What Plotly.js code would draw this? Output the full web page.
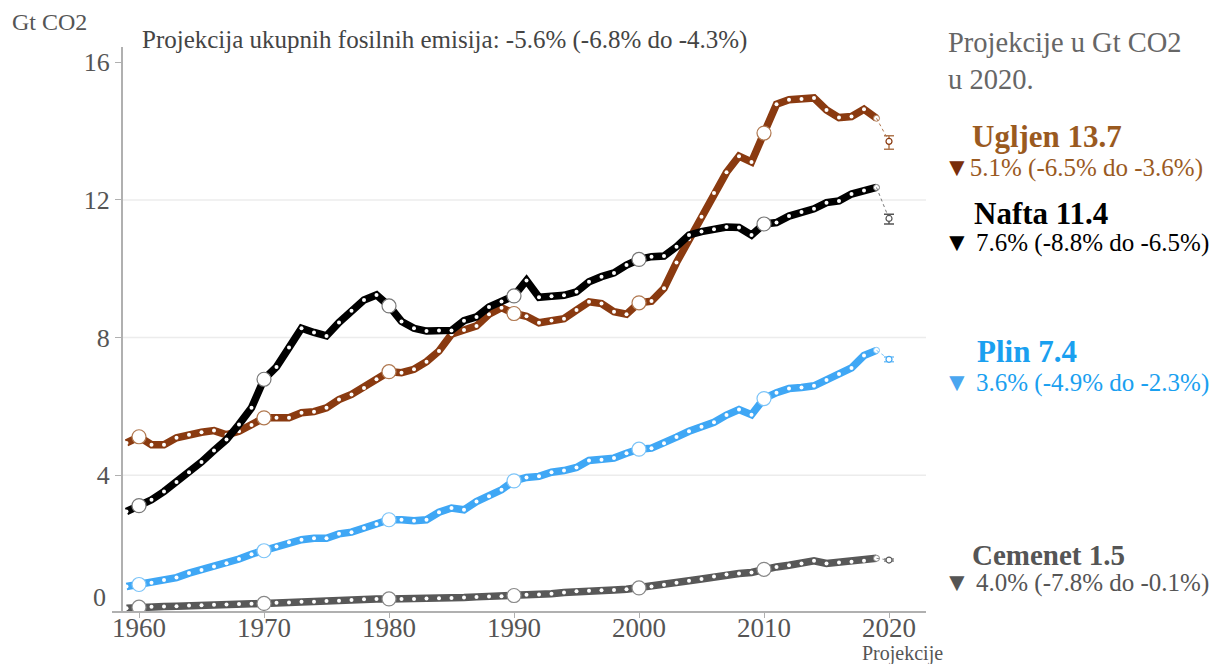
<!DOCTYPE html>
<html><head><meta charset="utf-8">
<script src="https://cdn.plot.ly/plotly-3.0.1.min.js"></script>
<style>html,body{margin:0;padding:0;background:#fff}#chart{width:1211px;height:664px}</style>
</head><body><div id="chart"></div>
<script>
// ---- data ----
const years = [1959,1960,1961,1962,1963,1964,1965,1966,1967,1968,1969,
  1970,1971,1972,1973,1974,1975,1976,1977,1978,1979,
  1980,1981,1982,1983,1984,1985,1986,1987,1988,1989,
  1990,1991,1992,1993,1994,1995,1996,1997,1998,1999,
  2000,2001,2002,2003,2004,2005,2006,2007,2008,2009,
  2010,2011,2012,2013,2014,2015,2016,2017,2018,2019];
const coal = [4.94,5.12,4.89,4.89,5.09,5.18,5.25,5.30,5.18,5.28,5.46,
  5.67,5.67,5.67,5.82,5.85,5.96,6.20,6.35,6.54,6.79,
  7.01,6.98,7.08,7.30,7.61,8.10,8.22,8.34,8.68,8.87,
  8.70,8.62,8.43,8.50,8.55,8.80,9.04,8.99,8.75,8.68,
  9.01,9.06,9.43,10.18,10.86,11.51,12.20,12.80,13.27,13.10,
  13.94,14.78,14.91,14.93,14.96,14.61,14.39,14.42,14.63,14.37];
const oil = [2.95,3.12,3.29,3.53,3.81,4.09,4.39,4.72,5.04,5.48,5.96,
  6.79,7.15,7.71,8.27,8.15,8.05,8.44,8.78,9.09,9.24,
  8.92,8.47,8.27,8.19,8.21,8.21,8.49,8.60,8.89,9.05,
  9.21,9.66,9.17,9.20,9.23,9.33,9.62,9.77,9.88,10.11,
  10.27,10.35,10.37,10.64,10.98,11.08,11.15,11.21,11.20,10.98,
  11.30,11.34,11.53,11.65,11.74,11.92,11.97,12.17,12.27,12.36];
const gas = [0.77,0.83,0.88,0.96,1.03,1.16,1.25,1.35,1.45,1.57,1.71,
  1.81,1.93,2.06,2.13,2.17,2.17,2.30,2.35,2.47,2.59,
  2.71,2.71,2.68,2.71,2.93,3.05,3.00,3.24,3.39,3.58,
  3.84,3.94,3.97,4.09,4.14,4.23,4.43,4.45,4.50,4.64,
  4.76,4.79,4.93,5.11,5.28,5.41,5.54,5.75,5.91,5.76,
  6.23,6.40,6.52,6.55,6.60,6.77,6.94,7.12,7.48,7.63];
const cement = [0.14,0.17,0.18,0.19,0.20,0.22,0.23,0.24,0.25,0.26,0.27,
  0.28,0.30,0.31,0.33,0.33,0.35,0.36,0.38,0.40,0.41,
  0.41,0.41,0.41,0.42,0.43,0.44,0.45,0.47,0.48,0.49,
  0.51,0.53,0.54,0.56,0.60,0.63,0.65,0.66,0.67,0.69,
  0.73,0.77,0.82,0.88,0.94,0.99,1.06,1.12,1.15,1.18,
  1.27,1.34,1.39,1.44,1.52,1.44,1.47,1.49,1.52,1.59];
const decadeYears = [1960,1970,1980,1990,2000,2010];
const projYear = 2020;
const projNames = ['Ugljen','Nafta','Plin','Cemenet'];
const projValues = [13.70, 11.46, 7.37, 1.54];
const projLow    = [13.47, 11.30, 7.30, 1.51];
const projHigh   = [13.86, 11.58, 7.44, 1.57];
const labelValues = ['13.7','11.4','7.4','1.5'];
const changeTexts = ['5.1% (-6.5% do -3.6%)',' 7.6% (-8.8% do -6.5%)',' 3.6% (-4.9% do -2.3%)',' 4.0% (-7.8% do -0.1%)'];
const xTicks = [1960,1970,1980,1990,2000,2010,2020];
const yTicks = [4,8,12,16];
const gridVals = [4,8,12];
const titleText = 'Projekcija ukupnih fosilnih emisija: -5.6% (-6.8% do -4.3%)';
const unitText = 'Gt CO2';
const headerText = 'Projekcije u Gt CO2<br>u 2020.';
const projAxisText = 'Projekcije';

// ---- styles ----
const lineColors = ['#8a3a10','#000000','#3fa7f5','#585858'];
const textColors = ['#9a5a1f','#000000','#1aa0f0','#555555'];
const triColors  = ['#7a2e0a','#000000','#4aa6f0','#555555'];
const circleLine = ['#b07850','#777777','#7cc4f8','#888888'];
const series = [coal, oil, gas, cement];
const FONT = 'Liberation Serif, Times New Roman, serif';

const L=112, R=926, T=47, B=611;
const px = x => (x-L)/(R-L);
const py = y => (B-y)/(B-T);

const traces = [];
series.forEach((vals,i)=>{
  traces.push({x:years, y:vals, type:'scatter', mode:'lines+markers',
    line:{color:lineColors[i], width:7.5},
    marker:{color:'#ffffff', size:4}, hoverinfo:'skip', showlegend:false});
});
series.forEach((vals,i)=>{
  const dy = decadeYears.map(d=>vals[years.indexOf(d)]);
  traces.push({x:decadeYears, y:dy, type:'scatter', mode:'markers',
    marker:{color:'#ffffff', size:14, line:{color:circleLine[i], width:1.2}},
    hoverinfo:'skip', showlegend:false});
  const last = years.length-1;
  traces.push({x:[years[last]], y:[vals[last]], type:'scatter', mode:'markers',
    marker:{color:'#ffffff', size:6, line:{color:circleLine[i], width:1}},
    hoverinfo:'skip', showlegend:false});
  traces.push({x:[years[last], projYear], y:[vals[last], projValues[i]], type:'scatter', mode:'lines',
    line:{color:circleLine[i], width:1, dash:'dot'}, hoverinfo:'skip', showlegend:false});
  traces.push({x:[projYear], y:[projValues[i]], type:'scatter', mode:'markers',
    marker:{color:'#ffffff', size:6, line:{color:lineColors[i]==='#000000'?'#555':lineColors[i], width:1.2}},
    error_y:{type:'data', symmetric:false, array:[projHigh[i]-projValues[i]], arrayminus:[projValues[i]-projLow[i]],
      color:lineColors[i]==='#000000'?'#555':circleLine[i], thickness:1.5, width:5},
    hoverinfo:'skip', showlegend:false});
});

const annotations = [];
annotations.push({xref:'paper', yref:'paper', x:px(10), y:py(22), xanchor:'left', yanchor:'middle',
  text:unitText, showarrow:false, font:{family:FONT, size:24, color:'#555'}});
annotations.push({xref:'paper', yref:'paper', x:px(140), y:py(40), xanchor:'left', yanchor:'middle',
  text:titleText, showarrow:false, font:{family:FONT, size:25, color:'#444'}});
annotations.push({xref:'paper', yref:'paper', x:px(946), y:py(61), xanchor:'left', yanchor:'middle', align:'left',
  text:headerText, showarrow:false, font:{family:FONT, size:28.5, color:'#666'}});
annotations.push({xref:'paper', yref:'paper', x:px(108), y:py(597), xanchor:'right', yanchor:'middle',
  text:'0', showarrow:false, font:{family:FONT, size:26, color:'#555'}});
annotations.push({xref:'paper', yref:'paper', x:px(902), y:py(653), xanchor:'center', yanchor:'middle',
  text:projAxisText, showarrow:false, font:{family:FONT, size:20, color:'#555'}});
xTicks.forEach(t=>{
  annotations.push({xref:'x', yref:'paper', x:t, y:py(628), xanchor:'center', yanchor:'middle',
    text:String(t), showarrow:false, font:{family:FONT, size:27, color:'#555'}});
});
const headY = [137, 213, 351, 555];
const subY  = [168, 243, 382, 582];
const headX = [970, 972, 975, 970];
const headSize = [31, 31, 31, 29];
projNames.forEach((n,i)=>{
  annotations.push({xref:'paper', yref:'paper', x:px(headX[i]), y:py(headY[i]), xanchor:'left', yanchor:'middle',
    text:'<b>'+n+' '+labelValues[i]+'</b>', showarrow:false, font:{family:FONT, size:headSize[i], color:textColors[i]}});
  annotations.push({xref:'paper', yref:'paper', x:px(942), y:py(subY[i]), xanchor:'left', yanchor:'middle',
    text:'<span style="color:'+triColors[i]+';font-size:26px">▼</span>'+changeTexts[i], showarrow:false,
    font:{family:FONT, size:25, color:textColors[i]}});
});

const shapes = gridVals.map(g=>({type:'line', xref:'paper', yref:'y', x0:px(121), x1:1, y0:g, y1:g,
  line:{color:'#ececec', width:1.5}, layer:'below'}));

const layout = {
  width:1211, height:664, margin:{l:L, r:1211-R, t:T, b:664-B, pad:0},
  paper_bgcolor:'#fff', plot_bgcolor:'#fff', showlegend:false, hovermode:false,
  xaxis:{range:[1957.84, 2022.96], tickvals:xTicks, showticklabels:false, showgrid:false, zeroline:false,
    showline:true, linecolor:'#b0b0b0', linewidth:1.5, ticks:'outside', ticklen:5, tickcolor:'#b0b0b0'},
  yaxis:{range:[0.06, 16.44], tickvals:yTicks, ticktext:yTicks.map(String), showgrid:false, zeroline:false,
    anchor:'free', position:px(121), showline:true, linecolor:'#b0b0b0', linewidth:1.5,
    ticks:'outside', ticklen:6, tickcolor:'#b0b0b0', tickfont:{family:FONT, size:26, color:'#555'}},
  annotations, shapes
};
Plotly.newPlot('chart', traces, layout, {displayModeBar:false, staticPlot:true});
</script></body></html>
